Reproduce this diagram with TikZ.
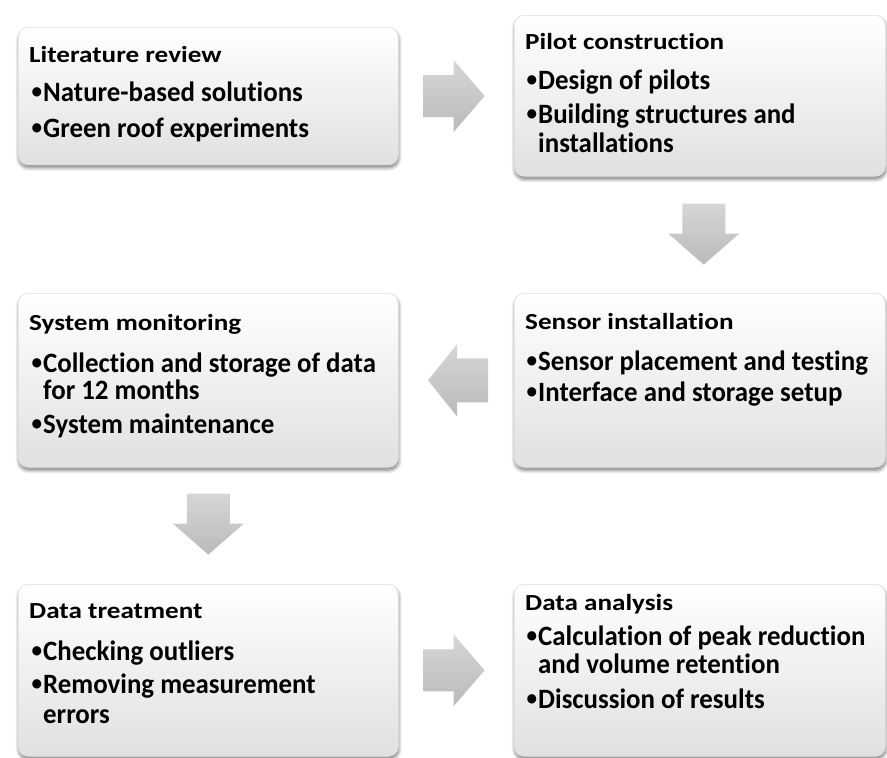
\documentclass[tikz,border=0pt]{standalone}
\usepackage{fontspec}
\setmainfont{Carlito}[Ligatures=NoCommon]
\newfontfamily\headfont{Carlito}[Ligatures=NoCommon, FakeStretch=1.18]
\newfontfamily\itemfont{Carlito}[Ligatures=NoCommon, FakeStretch=0.96]
\usetikzlibrary{shadows.blur,calc}

\tikzset{
  x=1pt, y=-1pt,
  stepbox/.style={draw=black!13, line width=0.6pt, rounded corners=10pt,
    top color=white, bottom color=black!12, inner sep=0pt, anchor=north west,
    blur shadow={shadow xshift=0.5pt, shadow yshift=-3pt, shadow blur radius=3.5pt,
      shadow blur steps=8, shadow opacity=50}},
  blockarrow/.style={draw=none, top color=black!16, bottom color=black!27},
  headtext/.style={anchor=base west, inner sep=0pt, font=\headfont\bfseries\fontsize{23}{27}\selectfont},
  itemtext/.style={anchor=base west, inner sep=0pt, font=\itemfont\bfseries\fontsize{28}{32}\selectfont},
}

% block arrows, drawn around the centre of their head base
\newcommand\arrowright[1]{\path[blockarrow, shift={(#1)}]
  (-30,-21) -- (0,-21) -- (0,-36) -- (31,0) -- (0,36) -- (0,21) -- (-30,21) -- cycle;}
\newcommand\arrowleft[1]{\path[blockarrow, shift={(#1)}]
  (31,-22) -- (0,-22) -- (0,-36) -- (-29,0) -- (0,36) -- (0,22) -- (31,22) -- cycle;}
\newcommand\arrowdown[1]{\path[blockarrow, shift={(#1)}]
  (-21.5,-30) -- (-21.5,0) -- (-35.5,0) -- (0,31) -- (35.5,0) -- (21.5,0) -- (21.5,-30) -- cycle;}
% list bullet and the indent of a wrapped line
\newcommand\bul{\makebox[13pt][l]{\hspace{1.5pt}\raisebox{3pt}{\fontsize{22}{22}\selectfont\textbullet}}}
\newcommand\hang{\hspace{13pt}}

\begin{document}
\begin{tikzpicture}
\useasboundingbox (0,0) rectangle (887,758);

% the six stages
\node[stepbox, minimum width=380pt, minimum height=137.5pt] (lit)    at (18,27)   {};
\node[stepbox, minimum width=371pt, minimum height=161pt]   (pilot)  at (514,15)  {};
\node[stepbox, minimum width=380pt, minimum height=174pt]   (mon)    at (18,293)  {};
\node[stepbox, minimum width=371pt, minimum height=174pt]   (sensor) at (514,293) {};
\node[stepbox, minimum width=380pt, minimum height=172pt]   (treat)  at (18,584)  {};
\node[stepbox, minimum width=371pt, minimum height=172pt]   (anal)   at (514,584) {};

% Literature review
\node[headtext] (lit-h)  at (29,62)  {Literature review};
\node[itemtext] (lit-1)  at (30,101) {\bul Nature-based solutions};
\node[itemtext] (lit-2)  at (30,137) {\bul Green roof experiments};

% Pilot construction
\node[headtext] (pilot-h) at (525,49)  {Pilot construction};
\node[itemtext] (pilot-1) at (525,89)  {\bul Design of pilots};
\node[itemtext] (pilot-2) at (525,123) {\bul Building structures and};
\node[itemtext] (pilot-3) at (525,152) {\hang installations};

% System monitoring
\node[headtext] (mon-h) at (29,330) {System monitoring};
\node[itemtext] (mon-1) at (30,372) {\bul Collection and storage of data};
\node[itemtext] (mon-2) at (30,399) {\hang for 12 months};
\node[itemtext] (mon-3) at (30,433) {\bul System maintenance};

% Sensor installation
\node[headtext] (sensor-h) at (525,329) {Sensor installation};
\node[itemtext] (sensor-1) at (525,370) {\bul Sensor placement and testing};
\node[itemtext] (sensor-2) at (525,401) {\bul Interface and storage setup};

% Data treatment
\node[headtext] (treat-h) at (29,618) {Data treatment};
\node[itemtext] (treat-1) at (30,660) {\bul Checking outliers};
\node[itemtext] (treat-2) at (30,693) {\bul Removing measurement};
\node[itemtext] (treat-3) at (30,723) {\hang errors};

% Data analysis
\node[headtext] (anal-h) at (525,610) {Data analysis};
\node[itemtext] (anal-1) at (525,645) {\bul Calculation of peak reduction};
\node[itemtext] (anal-2) at (525,673) {\hang and volume retention};
\node[itemtext] (anal-3) at (525,708) {\bul Discussion of results};

% flow between the stages
\coordinate (c1) at ($(lit.east)+(55,0)$);
\coordinate (c2) at ($(pilot.south)+(4,57)$);
\coordinate (c3) at ($(sensor.west)+(-57,0)$);
\coordinate (c4) at ($(mon.south)+(0,56)$);
\coordinate (c5) at ($(treat.east)+(55,0)$);
\arrowright{c1}
\arrowdown{c2}
\arrowleft{c3}
\arrowdown{c4}
\arrowright{c5}
\end{tikzpicture}
\end{document}
